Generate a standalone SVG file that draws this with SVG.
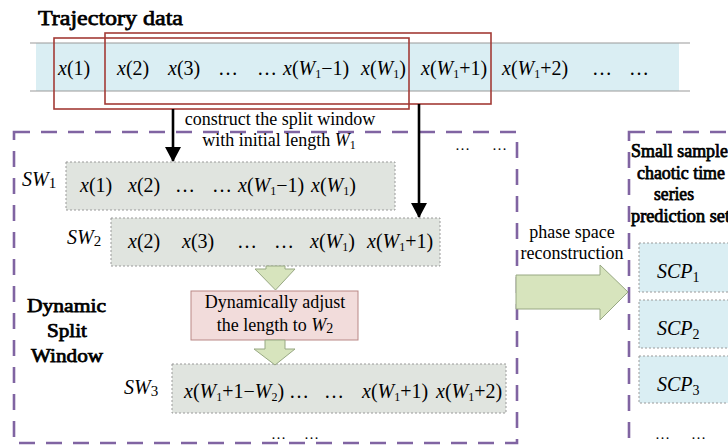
<svg xmlns="http://www.w3.org/2000/svg" width="728" height="445" viewBox="0 0 728 445">
<defs>
<style>
.t{font-family:"Liberation Serif","Times New Roman",serif;font-size:20px;fill:#000}
.m{font-family:"Liberation Serif","Times New Roman",serif;font-size:18px;fill:#000}
.b{font-family:"Liberation Serif","Times New Roman",serif;fill:#000;stroke:#000;stroke-width:0.75}
.i{font-style:italic}
.s{font-size:12px}
.d{font-family:"Liberation Serif","Times New Roman",serif;font-size:15px;fill:#000}
.gbox{fill:#E0E4DF;stroke:#9A9A9A;stroke-width:1;stroke-dasharray:2 2}
.cbox{fill:#DAEEF3;stroke:#9A9A9A;stroke-width:1;stroke-dasharray:2 2}
.purple{fill:none;stroke:#8064A2;stroke-width:2.6;stroke-dasharray:16 11}
.red{fill:none;stroke:#A33B36;stroke-width:1.6}
.garrow{fill:#D7E4BD;stroke:#98A883;stroke-width:1}
.blk{stroke:#000;stroke-width:2.6;fill:none}
</style>
<marker id="ah" markerWidth="16" markerHeight="16" refX="14" refY="8" orient="auto" markerUnits="userSpaceOnUse">
<path d="M0,0 L15,8 L0,16 Z" fill="#000"/>
</marker>
</defs>
<rect width="728" height="445" fill="#fff"/>

<g id="trajectory">
<text class="b" x="38" y="25" font-size="22" textLength="145" lengthAdjust="spacingAndGlyphs">Trajectory data</text>
<rect x="36" y="43" width="643" height="48" fill="#DAEEF3"/>
<line x1="30" y1="43" x2="690" y2="43" stroke="#9A9A9A" stroke-width="1.2"/>
<line x1="30" y1="91" x2="690" y2="91" stroke="#9A9A9A" stroke-width="1.2"/>
<text class="t" x="58" y="75"><tspan class="i">x</tspan>(1)</text>
<text class="t" x="117" y="75"><tspan class="i">x</tspan>(2)</text>
<text class="t" x="168" y="75"><tspan class="i">x</tspan>(3)</text>
<text class="t" x="218" y="75">…</text>
<text class="t" x="257" y="75">…</text>
<text class="t" x="283" y="75"><tspan class="i">x</tspan>(<tspan class="i">W</tspan><tspan class="s" dy="3">1</tspan><tspan dy="-3">−1)</tspan></text>
<text class="t" x="361" y="75"><tspan class="i">x</tspan>(<tspan class="i">W</tspan><tspan class="s" dy="3">1</tspan><tspan dy="-3">)</tspan></text>
<text class="t" x="421" y="75"><tspan class="i">x</tspan>(<tspan class="i">W</tspan><tspan class="s" dy="3">1</tspan><tspan dy="-3">+1)</tspan></text>
<text class="t" x="502" y="75"><tspan class="i">x</tspan>(<tspan class="i">W</tspan><tspan class="s" dy="3">1</tspan><tspan dy="-3">+2)</tspan></text>
<text class="t" x="592" y="75">…</text>
<text class="t" x="629" y="75">…</text>
<rect class="red" x="54" y="38" width="355" height="71"/>
<rect class="red" x="105" y="33" width="386" height="71"/>
</g>

<g id="dsw">
<rect class="purple" x="14" y="132" width="503" height="311"/>
<text class="b" font-size="19" x="27" y="312" textLength="79" lengthAdjust="spacingAndGlyphs">Dynamic</text>
<text class="b" font-size="19" x="47" y="337" textLength="40" lengthAdjust="spacingAndGlyphs">Split</text>
<text class="b" font-size="19" x="31" y="362" textLength="72" lengthAdjust="spacingAndGlyphs">Window</text>
<text class="d" x="455" y="150">…</text>
<text class="d" x="492" y="150">…</text>
<text class="d" x="271" y="439">…</text>
<text class="d" x="304" y="439">…</text>
</g>

<g id="sw1">
<text class="t" x="22" y="186"><tspan class="i">SW</tspan><tspan font-size="15" dy="2">1</tspan></text>
<rect class="gbox" x="66" y="162" width="329" height="48"/>
<text class="t" x="80" y="192"><tspan class="i">x</tspan>(1)</text>
<text class="t" x="128" y="192"><tspan class="i">x</tspan>(2)</text>
<text class="t" x="175" y="192">…</text>
<text class="t" x="212" y="192">…</text>
<text class="t" x="238" y="192"><tspan class="i">x</tspan>(<tspan class="i">W</tspan><tspan class="s" dy="3">1</tspan><tspan dy="-3">−1)</tspan></text>
<text class="t" x="311" y="192"><tspan class="i">x</tspan>(<tspan class="i">W</tspan><tspan class="s" dy="3">1</tspan><tspan dy="-3">)</tspan></text>
</g>

<g id="sw2">
<text class="t" x="67" y="244"><tspan class="i">SW</tspan><tspan font-size="15" dy="2">2</tspan></text>
<rect class="gbox" x="111" y="218" width="329" height="48"/>
<text class="t" x="128" y="248"><tspan class="i">x</tspan>(2)</text>
<text class="t" x="182" y="248"><tspan class="i">x</tspan>(3)</text>
<text class="t" x="237" y="248">…</text>
<text class="t" x="274" y="248">…</text>
<text class="t" x="310" y="248"><tspan class="i">x</tspan>(<tspan class="i">W</tspan><tspan class="s" dy="3">1</tspan><tspan dy="-3">)</tspan></text>
<text class="t" x="367" y="248"><tspan class="i">x</tspan>(<tspan class="i">W</tspan><tspan class="s" dy="3">1</tspan><tspan dy="-3">+1)</tspan></text>
</g>

<g id="adjust">
<rect x="191" y="291" width="167" height="49" fill="#F2DCDB" stroke="#B98886" stroke-width="1"/>
<text class="m" text-anchor="middle" x="275" y="308">Dynamically adjust</text>
<text class="m" text-anchor="middle" x="275" y="331">the length to <tspan class="i">W</tspan><tspan font-size="14" dy="2">2</tspan></text>
</g>

<g id="sw3">
<text class="t" x="124" y="394"><tspan class="i">SW</tspan><tspan font-size="15" dy="2">3</tspan></text>
<rect class="gbox" x="172" y="364" width="334" height="49"/>
<text class="t" x="184" y="398"><tspan class="i">x</tspan>(<tspan class="i">W</tspan><tspan class="s" dy="3">1</tspan><tspan dy="-3">+1−</tspan><tspan class="i">W</tspan><tspan class="s" dy="3">2</tspan><tspan dy="-3">)</tspan></text>
<text class="t" x="289" y="398">…</text>
<text class="t" x="324" y="398">…</text>
<text class="t" x="362" y="398"><tspan class="i">x</tspan>(<tspan class="i">W</tspan><tspan class="s" dy="3">1</tspan><tspan dy="-3">+1)</tspan></text>
<text class="t" x="436" y="398"><tspan class="i">x</tspan>(<tspan class="i">W</tspan><tspan class="s" dy="3">1</tspan><tspan dy="-3">+2)</tspan></text>
</g>

<g id="scp">
<rect class="purple" x="629" y="132" width="120" height="330"/>
<text class="b" font-size="18" x="631" y="157" textLength="97" lengthAdjust="spacingAndGlyphs">Small sample</text>
<text class="b" font-size="18" x="637" y="179" textLength="88" lengthAdjust="spacingAndGlyphs">chaotic time</text>
<text class="b" font-size="18" x="654" y="200" textLength="40" lengthAdjust="spacingAndGlyphs">series</text>
<text class="b" font-size="18" x="631" y="222" textLength="99" lengthAdjust="spacingAndGlyphs">prediction set</text>
<rect class="cbox" x="639" y="243" width="100" height="49"/>
<text class="t" font-size="23" x="657" y="278"><tspan class="i">SCP</tspan><tspan font-size="14" dy="4">1</tspan></text>
<rect class="cbox" x="639" y="300" width="100" height="48"/>
<text class="t" font-size="23" x="657" y="335"><tspan class="i">SCP</tspan><tspan font-size="14" dy="4">2</tspan></text>
<rect class="cbox" x="639" y="356" width="100" height="47"/>
<text class="t" font-size="23" x="657" y="391"><tspan class="i">SCP</tspan><tspan font-size="14" dy="4">3</tspan></text>
<text class="d" x="655" y="439">…</text>
<text class="d" x="691" y="439">…</text>
</g>

<g id="connectors">
<line class="blk" x1="173" y1="109" x2="173" y2="161" marker-end="url(#ah)"/>
<line class="blk" x1="419" y1="104" x2="419" y2="217" marker-end="url(#ah)"/>
<text class="m" text-anchor="middle" x="280" y="125">construct the split window</text>
<text class="m" text-anchor="middle" x="279" y="146">with initial length <tspan class="i">W</tspan><tspan font-size="12" dy="3">1</tspan></text>
<path class="garrow" d="M266,266 L285,266 L285,269 L295,269 L275.5,290 L255,269 L266,269 Z"/>
<path class="garrow" d="M265,340 L285,340 L285,349 L295,349 L275,365 L254,349 L265,349 Z"/>
<path class="garrow" d="M516,275 L600,275 L600,265 L628,292 L600,320 L600,309 L516,309 Z"/>
<text class="m" font-size="19" text-anchor="middle" x="572" y="238">phase space</text>
<text class="m" font-size="19" text-anchor="middle" x="572" y="259">reconstruction</text>
</g>
</svg>
